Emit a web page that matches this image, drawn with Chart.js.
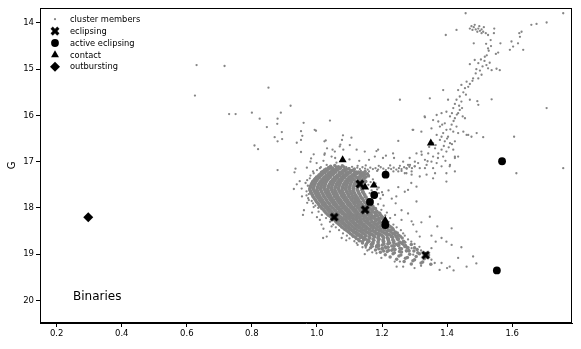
<!DOCTYPE html>
<html><head><meta charset="utf-8">
<script src="https://cdn.jsdelivr.net/npm/chart.js@4/dist/chart.umd.min.js"></script>
<style>html,body{margin:0;padding:0;background:#fff}#wrap{position:relative;width:581px;height:349px}</style>
</head><body><div id="wrap"><canvas id="c" width="581" height="349"></canvas></div>
<script>
// ---- axis ticks / ranges ----
const xTicks=[0.2,0.4,0.6,0.8,1.0,1.2,1.4,1.6];
const yTicks=[14,15,16,17,18,19,20];
const xRange=[0.1487,1.784];
const yRange=[13.676,20.488];
const yTitle='G';
const panelLabel='Binaries';
const legendLabels=['cluster members','eclipsing','active eclipsing','contact','outbursting'];

// ---- binaries ([colour, G]) ----
const eclipsing=[[1.132,17.48],[1.053,18.20],[1.148,18.04],[1.334,19.02]];
const activeEclipsing=[[1.211,17.28],[1.176,17.72],[1.163,17.87],[1.210,18.37],[1.569,16.99],[1.553,19.35]];
const contact=[[1.079,16.96],[1.350,16.60],[1.148,17.55],[1.175,17.51],[1.210,18.27]];
const outbursting=[[0.297,18.20]];

// ---- cluster members ([colour, G]) ----
const membersBlue=[[0.630,14.91],[0.716,14.93],[0.625,15.57],[0.851,15.40],[0.919,15.79],[0.730,15.97],[0.750,15.97],[0.800,15.94],[0.824,16.07],[0.889,15.94],[0.879,16.07],[0.878,16.18],[0.846,16.25],[0.959,16.16],[1.040,16.11],[0.892,16.36],[0.870,16.47],[0.893,16.51],[0.879,16.56],[0.951,16.34],[0.955,16.44],[0.951,16.53],[0.938,16.59],[0.993,16.31],[0.997,16.33],[0.808,16.65],[0.819,16.73],[0.951,16.79],[0.879,17.18],[0.934,17.15],[0.931,17.23],[0.969,17.13],[0.982,16.93],[0.980,17.00],[0.990,16.84],[1.023,16.56],[1.027,16.54],[1.031,16.71],[1.023,16.85],[1.048,16.74],[1.056,16.92],[1.080,16.43],[1.077,16.53],[1.072,16.63],[1.081,16.74],[0.947,17.42],[0.938,17.49],[0.965,17.46],[0.953,17.58],[0.929,17.59],[0.954,17.75],[0.968,17.73],[0.975,17.83],[0.970,17.89],[0.957,18.15],
[1.106,16.48],[1.101,16.64],[1.070,16.67],[1.122,16.74],[1.024,16.82],[1.045,16.89],[1.055,16.78],[1.147,16.78],[1.178,16.89],[1.188,16.74],[1.203,16.92],[0.978,17.36],[0.988,17.21],[0.999,17.03],[1.009,17.14],[1.10,16.95],[1.13,16.98],[1.16,16.96],[1.02,16.98],[1.06,17.02]];
const membersHalo=[[1.009,18.26],[1.014,18.36],[1.019,18.65],[1.030,18.62],[1.040,18.51],[1.076,18.65],[1.09,18.70],[1.11,18.62],[1.122,18.76],[1.135,18.72],[1.147,19.00],[1.183,18.98],[1.16,18.90],[1.15,18.86],[0.973,17.79],[0.988,17.90],[1.004,18.00],[0.99,17.98],[0.96,18.05],[0.985,18.10],[1.00,18.20],[1.02,18.45],[1.045,18.40],
[1.29,17.46],[1.306,17.86],[1.244,17.75],[1.25,17.55],[1.27,17.65],[1.22,17.62],[1.23,17.80],[1.26,18.05],[1.28,18.12],[1.24,18.15],[1.37,18.40],[1.242,17.90]];
const membersEdge=[[1.16,17.32],[1.172,17.38],[1.165,17.44],[1.18,17.47],[1.158,17.50],[1.19,17.56],[1.168,17.62],[1.185,17.60],[1.20,17.66],[1.162,17.68],[1.178,17.78],[1.195,17.80],[1.17,17.84],[1.188,17.92],[1.205,17.95],[1.18,18.00],[1.198,18.04],[1.215,18.10],[1.21,18.16],[1.225,18.22],[1.22,18.30],[1.235,18.36],[1.245,18.42],[1.258,18.48],[1.265,18.55],[1.27,18.60],[1.28,18.68],[1.29,18.73],[1.30,18.78],[1.315,18.84],[1.32,18.92],[1.335,18.97],[1.345,19.02],
[0.972,17.52],[0.968,17.64],[0.975,17.70],[0.97,17.40],[0.98,17.30],[0.99,17.25],[1.00,17.18],[1.012,17.12],[1.03,17.07],[0.984,17.85],[0.995,17.95],[1.005,18.08],[1.015,18.15],[1.028,18.22],[1.04,18.30],[1.05,18.36],[1.058,18.42],[1.068,18.48],[1.08,18.55],[1.092,18.60],[1.10,18.66],[1.115,18.72],[1.125,18.80],[1.14,18.85],[1.155,18.92],[1.17,18.96]];
const membersCore=[
[1.042,17.10],[1.055,17.08],[1.066,17.11],[1.078,17.09],
[1.028,17.16],[1.040,17.14],[1.051,17.17],[1.062,17.15],[1.073,17.13],[1.085,17.17],[1.097,17.15],
[1.018,17.21],[1.030,17.19],[1.041,17.22],[1.052,17.20],[1.063,17.18],[1.074,17.22],[1.086,17.20],[1.097,17.23],[1.108,17.19],[1.121,17.22],[1.134,17.24],[1.148,17.21],
[1.012,17.26],[1.024,17.24],[1.035,17.27],[1.046,17.25],[1.057,17.23],[1.068,17.27],[1.079,17.25],[1.090,17.26],[1.102,17.24],[1.113,17.27],[1.125,17.25],[1.139,17.28],[1.155,17.26],
[1.004,17.31],[1.015,17.29],[1.026,17.32],[1.037,17.30],[1.048,17.28],[1.059,17.32],[1.070,17.30],[1.081,17.31],[1.092,17.29],[1.103,17.32],[1.115,17.30],[1.128,17.33],[1.142,17.31],[1.158,17.30],
[0.996,17.36],[1.008,17.34],[1.019,17.37],[1.030,17.35],[1.041,17.33],[1.052,17.37],[1.063,17.35],[1.074,17.36],[1.085,17.34],[1.096,17.37],[1.107,17.35],[1.119,17.33],[1.132,17.37],[1.146,17.35],
[0.990,17.41],[1.001,17.39],[1.012,17.42],[1.023,17.40],[1.034,17.38],[1.045,17.42],[1.056,17.40],[1.067,17.41],[1.078,17.39],[1.089,17.42],[1.100,17.40],[1.111,17.38],[1.123,17.42],[1.137,17.40],[1.150,17.43],
[0.985,17.46],[0.996,17.44],[1.007,17.47],[1.018,17.45],[1.029,17.43],[1.040,17.47],[1.051,17.45],[1.062,17.46],[1.073,17.44],[1.084,17.47],[1.095,17.45],[1.106,17.43],[1.118,17.47],[1.131,17.45],[1.145,17.44],
[0.982,17.51],[0.993,17.49],[1.004,17.52],[1.015,17.50],[1.026,17.48],[1.037,17.52],[1.048,17.50],[1.059,17.51],[1.070,17.49],[1.081,17.52],[1.092,17.50],[1.103,17.48],[1.115,17.52],[1.128,17.50],[1.141,17.53],
[0.980,17.56],[0.991,17.54],[1.002,17.57],[1.013,17.55],[1.024,17.53],[1.035,17.57],[1.046,17.55],[1.057,17.56],[1.068,17.54],[1.079,17.57],[1.090,17.55],[1.101,17.53],[1.113,17.57],[1.126,17.55],[1.140,17.58],
[0.978,17.61],[0.989,17.59],[1.000,17.62],[1.011,17.60],[1.022,17.58],[1.033,17.62],[1.044,17.60],[1.055,17.61],[1.066,17.59],[1.077,17.62],[1.088,17.60],[1.099,17.58],[1.111,17.62],[1.124,17.60],[1.138,17.61],
[0.981,17.66],[0.992,17.64],[1.003,17.67],[1.014,17.65],[1.025,17.63],[1.036,17.67],[1.047,17.65],[1.058,17.66],[1.069,17.64],[1.080,17.67],[1.091,17.65],[1.102,17.63],[1.114,17.67],[1.127,17.65],[1.141,17.66],
[0.985,17.71],[0.996,17.69],[1.007,17.72],[1.018,17.70],[1.029,17.68],[1.040,17.72],[1.051,17.70],[1.062,17.71],[1.073,17.69],[1.084,17.72],[1.095,17.70],[1.106,17.68],[1.118,17.72],[1.131,17.70],[1.145,17.71],
[0.988,17.76],[0.999,17.74],[1.010,17.77],[1.021,17.75],[1.032,17.73],[1.043,17.77],[1.054,17.75],[1.065,17.76],[1.076,17.74],[1.087,17.77],[1.098,17.75],[1.109,17.73],[1.121,17.77],[1.134,17.75],[1.148,17.76],
[0.994,17.81],[1.005,17.79],[1.016,17.82],[1.027,17.80],[1.038,17.78],[1.049,17.82],[1.060,17.80],[1.071,17.81],[1.082,17.79],[1.093,17.82],[1.104,17.80],[1.115,17.78],[1.127,17.82],[1.140,17.80],[1.154,17.81],
[0.998,17.86],[1.009,17.84],[1.020,17.87],[1.031,17.85],[1.042,17.83],[1.053,17.87],[1.064,17.85],[1.075,17.86],[1.086,17.84],[1.097,17.87],[1.108,17.85],[1.119,17.83],[1.131,17.87],[1.144,17.85],[1.158,17.86],
[1.004,17.91],[1.015,17.89],[1.026,17.92],[1.037,17.90],[1.048,17.88],[1.059,17.92],[1.070,17.90],[1.081,17.91],[1.092,17.89],[1.103,17.92],[1.114,17.90],[1.125,17.88],[1.137,17.92],[1.150,17.90],[1.164,17.91],
[1.008,17.96],[1.019,17.94],[1.030,17.97],[1.041,17.95],[1.052,17.93],[1.063,17.97],[1.074,17.95],[1.085,17.96],[1.096,17.94],[1.107,17.97],[1.118,17.95],[1.129,17.93],[1.141,17.97],[1.154,17.95],[1.168,17.96],
[1.015,18.01],[1.026,17.99],[1.037,18.02],[1.048,18.00],[1.059,17.98],[1.070,18.02],[1.081,18.00],[1.092,18.01],[1.103,17.99],[1.114,18.02],[1.125,18.00],[1.136,17.98],[1.148,18.02],[1.161,18.00],[1.175,18.01],
[1.022,18.06],[1.033,18.04],[1.044,18.07],[1.055,18.05],[1.066,18.03],[1.077,18.07],[1.088,18.05],[1.099,18.06],[1.110,18.04],[1.121,18.07],[1.132,18.05],[1.160,18.06],[1.172,18.04],[1.184,18.07],
[1.028,18.11],[1.039,18.09],[1.050,18.12],[1.061,18.10],[1.072,18.08],[1.083,18.12],[1.094,18.10],[1.105,18.11],[1.116,18.09],[1.127,18.12],[1.138,18.10],[1.150,18.08],[1.163,18.12],[1.177,18.10],[1.190,18.11],
[1.035,18.16],[1.046,18.14],[1.057,18.17],[1.068,18.15],[1.079,18.13],[1.090,18.17],[1.101,18.15],[1.112,18.16],[1.123,18.14],[1.134,18.17],[1.145,18.15],[1.157,18.13],[1.170,18.17],[1.184,18.15],[1.196,18.16],
[1.045,18.21],[1.067,18.19],[1.078,18.22],[1.089,18.20],[1.100,18.18],[1.111,18.22],[1.122,18.20],[1.133,18.21],[1.144,18.19],[1.155,18.22],[1.166,18.20],[1.178,18.18],[1.191,18.22],[1.203,18.21],
[1.055,18.26],[1.066,18.24],[1.077,18.27],[1.088,18.25],[1.099,18.23],[1.110,18.27],[1.121,18.25],[1.132,18.26],[1.143,18.24],[1.154,18.27],[1.165,18.25],[1.177,18.23],[1.190,18.27],[1.203,18.25],
[1.060,18.31],[1.071,18.29],[1.082,18.32],[1.093,18.30],[1.104,18.28],[1.115,18.32],[1.126,18.30],[1.137,18.31],[1.148,18.29],[1.159,18.32],[1.170,18.30],[1.182,18.28],[1.195,18.32],[1.212,18.30],
[1.068,18.36],[1.079,18.34],[1.090,18.37],[1.101,18.35],[1.112,18.33],[1.123,18.37],[1.134,18.35],[1.145,18.36],[1.156,18.34],[1.167,18.37],[1.178,18.35],[1.190,18.33],[1.203,18.37],[1.218,18.35],
[1.076,18.41],[1.087,18.39],[1.098,18.42],[1.109,18.40],[1.120,18.38],[1.131,18.42],[1.142,18.40],[1.153,18.41],[1.164,18.39],[1.175,18.42],[1.186,18.40],[1.198,18.38],[1.211,18.42],[1.225,18.40],
[1.085,18.46],[1.096,18.44],[1.107,18.47],[1.118,18.45],[1.129,18.43],[1.140,18.47],[1.151,18.45],[1.162,18.46],[1.173,18.44],[1.184,18.47],[1.195,18.45],[1.207,18.43],[1.220,18.47],[1.233,18.45],
[1.095,18.51],[1.107,18.49],[1.119,18.52],[1.131,18.50],[1.143,18.48],[1.155,18.52],[1.167,18.50],[1.179,18.51],[1.191,18.49],[1.203,18.52],[1.215,18.50],[1.228,18.48],[1.241,18.52],
[1.103,18.56],[1.116,18.54],[1.129,18.57],[1.142,18.55],[1.155,18.53],[1.168,18.57],[1.181,18.55],[1.194,18.56],[1.207,18.54],[1.220,18.57],[1.233,18.55],[1.247,18.54],
[1.112,18.61],[1.125,18.59],[1.138,18.62],[1.151,18.60],[1.164,18.58],[1.177,18.62],[1.190,18.60],[1.203,18.61],[1.216,18.59],[1.229,18.62],[1.242,18.60],[1.256,18.61],
[1.121,18.66],[1.135,18.64],[1.149,18.67],[1.163,18.65],[1.177,18.63],[1.191,18.67],[1.205,18.65],[1.219,18.66],[1.233,18.64],[1.247,18.67],[1.262,18.65],
[1.130,18.71],[1.145,18.69],[1.160,18.72],[1.175,18.70],[1.190,18.68],[1.205,18.72],[1.220,18.70],[1.235,18.71],[1.250,18.69],[1.266,18.72],
[1.140,18.76],[1.156,18.74],[1.172,18.77],[1.188,18.75],[1.204,18.73],[1.220,18.77],[1.236,18.75],[1.252,18.76],[1.270,18.74],
[1.150,18.81],[1.167,18.79],[1.184,18.82],[1.201,18.80],[1.218,18.78],[1.235,18.82],[1.252,18.80],[1.272,18.81],[1.290,18.79],
[1.165,18.86],[1.183,18.84],[1.201,18.87],[1.219,18.85],[1.237,18.83],[1.255,18.87],[1.276,18.85],[1.300,18.86],
[1.180,18.91],[1.200,18.89],[1.220,18.92],[1.240,18.90],[1.260,18.88],[1.282,18.92],[1.308,18.90],
[1.195,18.96],[1.216,18.94],[1.238,18.97],[1.260,18.95],[1.283,18.93],[1.310,18.97],
[1.210,19.01],[1.234,18.99],[1.258,19.02],[1.285,19.00],[1.315,18.99],
[1.225,19.06],[1.252,19.04],[1.278,19.07],[1.305,19.05],[1.340,19.06],
[1.245,19.11],[1.272,19.09],[1.300,19.12],[1.330,19.10],
[1.268,19.16],[1.295,19.14],[1.325,19.17],
[1.290,19.21],[1.320,19.19],[1.350,19.22]];
const membersCoreFill=[
[1.036,17.125],[1.048,17.135],[1.060,17.12],[1.071,17.14],[1.083,17.115],
[1.023,17.18],[1.035,17.165],[1.046,17.19],[1.057,17.175],[1.068,17.16],[1.080,17.185],[1.091,17.17],[1.103,17.19],[1.114,17.165],
[1.014,17.23],[1.026,17.215],[1.036,17.24],[1.047,17.225],[1.058,17.21],[1.069,17.235],[1.080,17.22],[1.091,17.24],[1.103,17.215],[1.115,17.235],[1.128,17.22],[1.141,17.24],
[1.007,17.28],[1.018,17.265],[1.029,17.29],[1.040,17.275],[1.051,17.26],[1.062,17.285],[1.073,17.27],[1.084,17.29],[1.096,17.265],[1.108,17.285],[1.120,17.27],[1.133,17.29],[1.147,17.275],
[0.999,17.33],[1.010,17.315],[1.021,17.34],[1.032,17.325],[1.043,17.31],[1.054,17.335],[1.065,17.32],[1.076,17.34],[1.087,17.315],[1.098,17.335],[1.110,17.32],[1.122,17.34],[1.136,17.325],[1.151,17.33],
[0.993,17.38],[1.004,17.365],[1.015,17.39],[1.026,17.375],[1.037,17.36],[1.048,17.385],[1.059,17.37],[1.070,17.39],[1.081,17.365],[1.092,17.385],[1.103,17.37],[1.115,17.39],[1.128,17.375],[1.142,17.38],
[0.987,17.43],[0.998,17.415],[1.009,17.44],[1.020,17.425],[1.031,17.41],[1.042,17.435],[1.053,17.42],[1.064,17.44],[1.075,17.415],[1.086,17.435],[1.097,17.42],[1.108,17.44],[1.120,17.425],[1.134,17.43],[1.148,17.415],
[0.983,17.48],[0.994,17.465],[1.005,17.49],[1.016,17.475],[1.027,17.46],[1.038,17.485],[1.049,17.47],[1.060,17.49],[1.071,17.465],[1.082,17.485],[1.093,17.47],[1.104,17.49],[1.116,17.475],[1.124,17.46],[1.142,17.485],
[0.980,17.53],[0.991,17.515],[1.002,17.54],[1.013,17.525],[1.024,17.51],[1.035,17.535],[1.046,17.52],[1.057,17.54],[1.068,17.515],[1.079,17.535],[1.090,17.52],[1.101,17.54],[1.113,17.525],[1.126,17.53],[1.138,17.515],
[0.978,17.58],[0.989,17.565],[1.000,17.59],[1.011,17.575],[1.022,17.56],[1.033,17.585],[1.044,17.57],[1.055,17.59],[1.066,17.565],[1.077,17.585],[1.088,17.57],[1.099,17.59],[1.111,17.575],[1.124,17.58],[1.137,17.565],
[0.980,17.63],[0.991,17.615],[1.002,17.64],[1.013,17.625],[1.024,17.61],[1.035,17.635],[1.046,17.62],[1.057,17.64],[1.068,17.615],[1.079,17.635],[1.090,17.62],[1.101,17.64],[1.113,17.625],[1.126,17.63],[1.140,17.615],
[0.983,17.68],[0.994,17.665],[1.005,17.69],[1.016,17.675],[1.027,17.66],[1.038,17.685],[1.049,17.67],[1.060,17.69],[1.071,17.665],[1.082,17.685],[1.093,17.67],[1.104,17.69],[1.116,17.675],[1.129,17.68],[1.143,17.665],
[0.987,17.73],[0.998,17.715],[1.009,17.74],[1.020,17.725],[1.031,17.71],[1.042,17.735],[1.053,17.72],[1.064,17.74],[1.075,17.715],[1.086,17.735],[1.097,17.72],[1.108,17.74],[1.120,17.725],[1.133,17.73],[1.147,17.715],
[0.991,17.78],[1.002,17.765],[1.013,17.79],[1.024,17.775],[1.035,17.76],[1.046,17.785],[1.057,17.77],[1.068,17.79],[1.079,17.765],[1.090,17.785],[1.101,17.77],[1.112,17.79],[1.124,17.775],[1.137,17.78],[1.151,17.765],
[0.996,17.83],[1.007,17.815],[1.018,17.84],[1.029,17.825],[1.040,17.81],[1.051,17.835],[1.062,17.82],[1.073,17.84],[1.084,17.815],[1.095,17.835],[1.106,17.82],[1.117,17.84],[1.129,17.825],[1.142,17.83],[1.156,17.815],
[1.001,17.88],[1.012,17.865],[1.023,17.89],[1.034,17.875],[1.045,17.86],[1.056,17.885],[1.067,17.87],[1.078,17.89],[1.089,17.865],[1.100,17.885],[1.111,17.87],[1.122,17.89],[1.134,17.875],[1.147,17.88],[1.161,17.865],
[1.006,17.93],[1.017,17.915],[1.028,17.94],[1.039,17.925],[1.050,17.91],[1.061,17.935],[1.072,17.92],[1.083,17.94],[1.094,17.915],[1.105,17.935],[1.116,17.92],[1.127,17.94],[1.139,17.925],[1.152,17.93],[1.166,17.915],
[1.012,17.98],[1.023,17.965],[1.034,17.99],[1.045,17.975],[1.056,17.96],[1.067,17.985],[1.078,17.97],[1.089,17.99],[1.100,17.965],[1.111,17.985],[1.122,17.97],[1.133,17.99],[1.145,17.975],[1.158,17.98],[1.172,17.965],
[1.019,18.03],[1.030,18.015],[1.041,18.04],[1.052,18.025],[1.063,18.01],[1.074,18.035],[1.085,18.02],[1.096,18.04],[1.107,18.015],[1.118,18.035],[1.129,18.02],[1.140,18.04],[1.154,18.025],[1.167,18.03],[1.180,18.015],
[1.025,18.08],[1.036,18.065],[1.047,18.09],[1.058,18.075],[1.069,18.06],[1.080,18.085],[1.091,18.07],[1.102,18.09],[1.113,18.065],[1.124,18.085],[1.135,18.07],[1.156,18.09],[1.169,18.075],[1.183,18.08],
[1.032,18.13],[1.043,18.115],[1.054,18.14],[1.065,18.125],[1.076,18.11],[1.087,18.135],[1.098,18.12],[1.109,18.14],[1.120,18.115],[1.131,18.135],[1.142,18.12],[1.154,18.14],[1.167,18.125],[1.180,18.13],[1.193,18.115],
[1.040,18.18],[1.062,18.165],[1.073,18.19],[1.084,18.175],[1.095,18.16],[1.106,18.185],[1.117,18.17],[1.128,18.19],[1.139,18.165],[1.150,18.185],[1.161,18.17],[1.173,18.19],[1.186,18.175],[1.199,18.18],
[1.060,18.23],[1.072,18.215],[1.083,18.24],[1.094,18.225],[1.105,18.21],[1.116,18.235],[1.127,18.22],[1.138,18.24],[1.149,18.215],[1.160,18.235],[1.171,18.22],[1.184,18.24],[1.197,18.225],
[1.057,18.28],[1.068,18.265],[1.079,18.29],[1.090,18.275],[1.101,18.26],[1.112,18.285],[1.123,18.27],[1.134,18.29],[1.145,18.265],[1.156,18.285],[1.167,18.27],[1.179,18.29],[1.192,18.275],[1.205,18.28],
[1.064,18.33],[1.075,18.315],[1.086,18.34],[1.097,18.325],[1.108,18.31],[1.119,18.335],[1.130,18.32],[1.141,18.34],[1.152,18.315],[1.163,18.335],[1.174,18.32],[1.186,18.34],[1.199,18.325],
[1.072,18.38],[1.083,18.365],[1.094,18.39],[1.105,18.375],[1.116,18.36],[1.127,18.385],[1.138,18.37],[1.149,18.39],[1.160,18.365],[1.171,18.385],[1.182,18.37],[1.194,18.39],[1.220,18.375],
[1.080,18.43],[1.091,18.415],[1.102,18.44],[1.113,18.425],[1.124,18.41],[1.135,18.435],[1.146,18.42],[1.157,18.44],[1.168,18.415],[1.179,18.435],[1.190,18.42],[1.203,18.44],[1.217,18.425],[1.230,18.43],
[1.090,18.48],[1.101,18.465],[1.112,18.49],[1.124,18.475],[1.136,18.46],[1.148,18.485],[1.160,18.47],[1.172,18.49],[1.184,18.465],[1.196,18.485],[1.208,18.47],[1.221,18.49],[1.235,18.475],
[1.099,18.53],[1.112,18.515],[1.124,18.54],[1.137,18.525],[1.149,18.51],[1.162,18.535],[1.175,18.52],[1.188,18.54],[1.201,18.515],[1.214,18.535],[1.227,18.52],[1.240,18.54],
[1.108,18.58],[1.121,18.565],[1.134,18.59],[1.147,18.575],[1.160,18.56],[1.173,18.585],[1.186,18.57],[1.199,18.59],[1.212,18.565],[1.225,18.585],[1.238,18.57],[1.251,18.59],
[1.118,18.63],[1.132,18.615],[1.146,18.64],[1.160,18.625],[1.174,18.61],[1.188,18.635],[1.202,18.62],[1.216,18.64],[1.230,18.615],[1.245,18.635],
[1.128,18.68],[1.143,18.665],[1.158,18.69],[1.173,18.675],[1.188,18.66],[1.203,18.685],[1.218,18.67],[1.233,18.69],[1.250,18.665],
[1.140,18.73],[1.156,18.715],[1.172,18.74],[1.188,18.725],[1.204,18.71],[1.220,18.735],[1.236,18.72],[1.256,18.74],
[1.152,18.78],[1.170,18.765],[1.188,18.79],[1.206,18.775],[1.224,18.76],[1.244,18.785],[1.262,18.77],
[1.170,18.83],[1.190,18.815],[1.210,18.84],[1.230,18.825],[1.250,18.81],[1.270,18.835],
[1.190,18.88],[1.212,18.865],[1.234,18.89],[1.256,18.875],[1.280,18.86],
[1.205,18.93],[1.230,18.915],[1.254,18.94],[1.275,18.925],[1.298,18.93]];
const membersTail=[[1.260,18.26],[1.291,18.29],[1.296,18.36],[1.321,18.31],[1.347,18.19],[1.306,18.51],[1.316,18.62],[1.352,18.60],[1.365,18.73],[1.383,18.65],[1.398,18.73],[1.414,18.44],[1.414,18.80],[1.444,18.85],[1.352,18.87],[1.291,18.87],[1.296,19.01],[1.275,18.94],[1.265,18.80],[1.352,19.12],[1.362,19.19],[1.383,19.19],[1.377,19.34],[1.408,19.27],[1.434,19.08],[1.460,19.27],[1.255,19.16],[1.239,19.16],[1.198,19.08],[1.265,19.27],[1.245,19.27],[1.49,19.20],[1.48,19.05],[1.32,19.25],[1.30,19.30],[1.42,19.35],[1.40,19.30]];
const membersSubgiant=[[1.09,17.12],[1.10,17.14],[1.108,17.11],[1.116,17.15],[1.124,17.13],[1.132,17.16],[1.14,17.12],[1.148,17.15],[1.156,17.17],[1.164,17.13],[1.172,17.16],[1.18,17.14],[1.188,17.17],[1.196,17.12],[1.204,17.15],[1.212,17.18],[1.22,17.14],[1.228,17.16],[1.236,17.13],[1.244,17.17],[1.252,17.14],[1.26,17.16],[1.268,17.12],[1.276,17.15],[1.284,17.11],[1.292,17.14],[1.30,17.10],[1.115,17.19],[1.135,17.20],[1.16,17.21],[1.185,17.20],[1.21,17.22],[1.235,17.21],[1.26,17.20],[1.125,17.09],[1.15,17.08],[1.19,17.09],[1.225,17.08],[1.255,17.09],[1.28,17.07],
[1.250,17.21],[1.275,17.25],[1.291,17.28],[1.316,17.32],[1.337,17.28],[1.357,17.36],[1.398,17.43],[1.408,17.10],[1.424,16.92],[1.434,16.89],[1.460,16.42],[1.424,17.21],[1.306,17.54],[1.280,17.61],[1.203,17.72],[1.19,17.68],
[1.183,16.77],[1.212,16.87],[1.234,16.82],[1.250,16.55],[1.237,16.92],[1.265,17.00],[1.285,16.92],[1.301,17.00],[1.306,16.82],[1.321,16.78],[1.296,16.31],[1.321,16.35],[1.255,15.66],[1.347,15.63],[1.388,15.45],[1.331,16.02]];
const membersGiant=[[1.475,14.07],[1.482,14.09],[1.488,14.14],[1.496,14.12],[1.501,14.17],[1.506,14.14],[1.511,14.19],[1.478,14.15],[1.493,14.19],[1.519,14.22],[1.526,14.26],[1.506,14.22],[1.485,14.04],[1.470,14.12],[1.499,14.07],[1.513,14.09],[1.457,13.79],[1.429,14.15],[1.396,14.26],[1.545,14.12],[1.544,14.22],[1.534,14.37],[1.564,14.44],[1.482,14.44],[1.526,14.55],[1.557,14.64],[1.550,14.67],[1.516,14.73],[1.504,14.79],[1.485,14.80],[1.470,14.89],[1.496,14.87],[1.521,14.91],[1.531,14.86],[1.509,14.94],[1.526,14.98],[1.537,15.02],[1.552,14.99],[1.562,15.02],[1.501,15.03],[1.488,15.09],[1.480,15.20],[1.496,15.20],[1.506,15.12],[1.460,15.27],[1.444,15.34],[1.465,15.38],[1.455,15.41],[1.434,15.45],[1.439,15.59],[1.429,15.66],[1.444,15.70],[1.424,15.75],[1.437,15.79],[1.403,15.66],[1.470,15.66],[1.493,15.69],[1.496,15.77],[1.537,15.65],[1.419,15.84],[1.439,15.88],[1.398,15.92],[1.383,15.95],[1.434,15.95],[1.409,16.02],[1.424,16.06],[1.448,16.02],[1.455,16.06],[1.368,15.99],[1.332,16.04],[1.357,16.10],[1.373,16.13],[1.393,16.17],[1.414,16.20],[1.429,16.24],[1.378,16.24],[1.352,16.28],[1.398,16.31],[1.419,16.35],[1.294,16.31],[1.388,16.38],[1.368,16.42],[1.383,16.46],[1.403,16.46],[1.434,16.38],[1.450,16.35],[1.465,16.42],[1.475,16.46],[1.491,16.38],[1.511,16.47],[1.378,16.53],[1.393,16.56],[1.409,16.60],[1.424,16.56],[1.357,16.60],[1.363,16.71],[1.383,16.74],[1.398,16.78],[1.419,16.74],[1.373,16.82],[1.357,16.89],[1.342,16.82],[1.322,16.85],[1.388,16.89],[1.424,16.89],[1.332,16.96],[1.352,17.00],[1.368,17.03],[1.311,17.03],[1.337,17.07],[1.301,17.10],[1.286,17.07],[1.275,17.14],[1.291,17.21],[1.316,17.14],[1.332,17.14],[1.357,17.14],[1.383,17.10],[1.409,17.07],[1.398,17.25],[1.363,17.25],[1.270,17.25],
[1.345,16.68],[1.365,16.64],[1.390,16.66],[1.405,16.69],[1.372,16.92],[1.395,16.98],[1.340,16.99],[1.415,16.62],[1.400,16.50],[1.410,16.30],[1.385,16.20],[1.420,16.12],[1.430,15.98],[1.415,15.95],[1.446,15.84],[1.458,15.55],[1.450,15.50],[1.470,15.32],[1.478,15.25],[1.490,15.00],[1.515,14.82],[1.522,14.70],[1.528,14.60],[1.535,14.50],[1.520,14.45]];
const membersField=[[1.606,16.46],[1.613,17.25],[1.757,17.14],[1.593,14.58],[1.603,14.51],[1.598,14.40],[1.618,14.44],[1.624,14.30],[1.629,14.19],[1.622,14.22],[1.634,14.58],[1.659,14.04],[1.675,14.02],[1.706,13.99],[1.757,13.79],[1.706,15.84]];
const membersSparse=[].concat(membersBlue,membersHalo,membersEdge,membersTail,membersSubgiant,membersGiant,membersField);
const membersDense=[].concat(membersCore,membersCoreFill);

// ---- marker images ----
function filledX(s){
  const pad=2,n=Math.ceil(s)+pad*2,cv=document.createElement('canvas');cv.width=cv.height=n;
  const g=cv.getContext('2d'),u=s/6,c=n/2,a=Math.PI/4;
  const v=[[1,3],[1,1],[3,1],[3,-1],[1,-1],[1,-3],[-1,-3],[-1,-1],[-3,-1],[-3,1],[-1,1],[-1,3]];
  g.fillStyle='#000';g.beginPath();
  v.forEach((p,i)=>{const x=p[0]*u,y=p[1]*u;const rx=x*Math.cos(a)-y*Math.sin(a),ry=x*Math.sin(a)+y*Math.cos(a);i?g.lineTo(c+rx,c+ry):g.moveTo(c+rx,c+ry);});
  g.closePath();g.fill();return cv;
}
const xImg=filledX(9.5);
const toPts=a=>a.map(p=>({x:p[0],y:p[1]}));
const gray='#858585';
const styles=[
  {pointStyle:'circle',radius:1.15,color:gray},
  {pointStyle:xImg,radius:5,color:'#000'},
  {pointStyle:'circle',radius:3.9,color:'#000'},
  {pointStyle:'triangle',radius:4.6,color:'#000'},
  {pointStyle:'rectRot',radius:5,color:'#000'}
];
const seriesData=[membersSparse,eclipsing,activeEclipsing,contact,outbursting];
const datasets=seriesData.map((d,i)=>({
  label:legendLabels[i],data:toPts(d),showLine:false,
  pointStyle:styles[i].pointStyle,pointRadius:styles[i].radius,pointHoverRadius:styles[i].radius,
  backgroundColor:styles[i].color,borderColor:styles[i].color,borderWidth:0,order:i===0?10:5-i
}));
// dense part of the cluster-member cloud (same series, overlapping dots)
datasets.push({label:legendLabels[0],data:toPts(membersDense),showLine:false,pointStyle:'circle',
  pointRadius:1.75,pointHoverRadius:1.75,backgroundColor:gray,borderColor:gray,borderWidth:0,order:11});

const overlay={id:'overlay',afterDraw(chart){
  const ctx=chart.ctx,a=chart.chartArea;ctx.save();
  ctx.strokeStyle='#000';ctx.lineWidth=1;
  ctx.strokeRect(Math.round(a.left)+0.5,Math.round(a.top)+0.5,Math.round(a.right-a.left)-1,Math.round(a.bottom-a.top)-1);
  // legend
  const ly0=a.top+11.2,dy=11.9,mx=a.left+15,tx=a.left+30;
  ctx.font="8.3px 'DejaVu Sans'";ctx.textBaseline='middle';ctx.textAlign='left';
  styles.forEach((s,i)=>{
    const y=ly0+i*dy;
    ctx.fillStyle=s.color;ctx.strokeStyle=s.color;
    Chart.helpers.drawPoint(ctx,{pointStyle:s.pointStyle,radius:i===0?1.1:s.radius,rotation:0,borderWidth:0},mx,y);
    ctx.fillStyle='#000';ctx.fillText(legendLabels[i],tx,y+0.5);
  });
  ctx.font="12px 'DejaVu Sans'";ctx.fillStyle='#000';
  ctx.fillText(panelLabel,a.left+33,a.top+289);
  ctx.restore();
}};

Chart.defaults.font.family="'DejaVu Sans', sans-serif";
new Chart(document.getElementById('c'),{
  type:'scatter',
  data:{datasets},
  options:{
    responsive:false,animation:false,devicePixelRatio:1,
    layout:{padding:{top:8,right:9,left:0,bottom:0}},
    plugins:{legend:{display:false},tooltip:{enabled:false}},
    scales:{
      x:{type:'linear',min:xRange[0],max:xRange[1],
        afterBuildTicks:s=>{s.ticks=xTicks.map(v=>({value:v}));},
        ticks:{callback:v=>Number(v).toFixed(1),color:'#000',font:{size:8.5},padding:2,maxRotation:0,autoSkip:false},
        grid:{display:true,drawOnChartArea:false,drawTicks:true,tickLength:4,color:'#000',lineWidth:1},
        border:{display:true,color:'#000',width:1},
        afterFit:s=>{s.height=26;}
      },
      y:{type:'linear',reverse:true,min:yRange[0],max:yRange[1],
        afterBuildTicks:s=>{s.ticks=yTicks.map(v=>({value:v}));},
        ticks:{callback:v=>String(v),color:'#000',font:{size:8.5},padding:2,autoSkip:false},
        grid:{display:true,drawOnChartArea:false,drawTicks:true,tickLength:4,color:'#000',lineWidth:1},
        border:{display:true,color:'#000',width:1},
        title:{display:true,text:yTitle,color:'#000',font:{size:10},padding:{top:6,bottom:0}},
        afterFit:s=>{s.width=40;}
      }
    }
  },
  plugins:[overlay]
});
</script></body></html>
